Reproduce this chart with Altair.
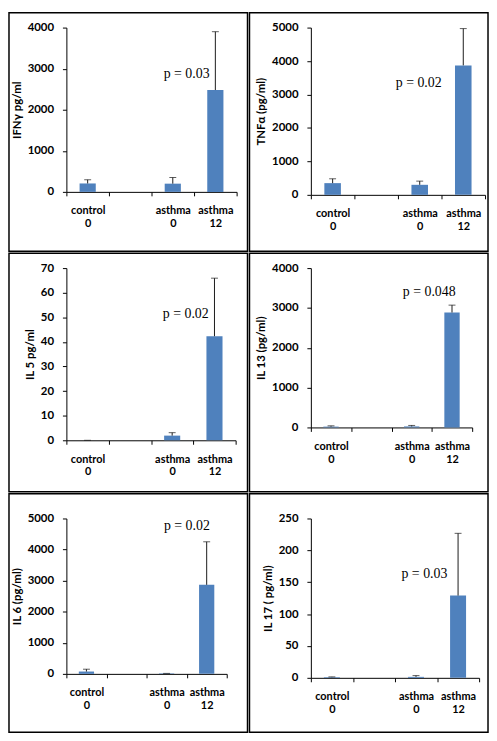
import altair as alt
import pandas as pd

# ---- data ----
categories = ["control\n0", " ", "asthma\n0", "asthma\n12"]
bar_categories = ["control\n0", "asthma\n0", "asthma\n12"]

titles = ["IFNγ pg/ml", "TNFα (pg/ml)", "IL 5 pg/ml", "IL 13 (pg/ml)", "IL 6 (pg/ml)", "IL 17 ( pg/ml)"]

ifng_mean = [205, 200, 2480]
ifng_err = [90, 150, 1420]
tnfa_mean = [350, 300, 3870]
tnfa_err = [130, 110, 1100]
il5_mean = [0, 1.9, 42.3]
il5_err = [0, 1.2, 23.6]
il13_mean = [20, 25, 2885]
il13_err = [20, 25, 185]
il6_mean = [75, 15, 2865]
il6_err = [75, 0, 1385]
il17_mean = [1, 1.5, 129]
il17_err = [0.5, 2, 97.7]

means = [ifng_mean, tnfa_mean, il5_mean, il13_mean, il6_mean, il17_mean]
errs = [ifng_err, tnfa_err, il5_err, il13_err, il6_err, il17_err]

p_labels = ["p = 0.03", "p = 0.02", "p = 0.02", "p = 0.048", "p = 0.02", "p = 0.03"]
p_label_y = [2860, 3330, 51.5, 3390, 4760, 163]

y_max = [4000, 5000, 70, 4000, 5000, 250]
y_step = [1000, 1000, 10, 1000, 1000, 50]

# ---- layout (pixels) ----
BOX = 241
COL_LEFT = [58, 62]
ROW_TOP = [15, 15, 25]
# plot width, plot height, p-label dx
layout = [
    (172, 166, -29),
    (176, 169, -45),
    (171, 174, -29),
    (163, 161, -23),
    (162, 157, -20),
    (170, 161, -34),
]

BLUE = "#4F81BD"


def make_panel(i):
    W, H, pdx = layout[i]
    left = COL_LEFT[i % 2]
    top = ROW_TOP[i // 2]
    df = pd.DataFrame({
        "cat": bar_categories,
        "mean": means[i],
        "hi": [m + e for m, e in zip(means[i], errs[i])],
    })
    xenc = alt.X(
        "cat:N",
        scale=alt.Scale(domain=categories, paddingInner=0, paddingOuter=0),
        axis=alt.Axis(
            title=None,
            labelExpr="isValid(datum.value) ? split(datum.value, '\\n') : ''",
            tickBand="extent",
            labelAngle=0,
            tickSize=4,
            labelPadding=9,
            labelLineHeight=13,
            labelBaseline="top",
            labelFontSize=11,
        ),
    )

    def yenc(field):
        return alt.Y(
            f"{field}:Q",
            scale=alt.Scale(domain=[0, y_max[i]], nice=False),
            axis=alt.Axis(
                title=titles[i],
                values=list(range(0, y_max[i] + 1, y_step[i])),
                format="d",
                grid=False,
                tickSize=4,
                labelPadding=9,
                titlePadding=5,
            ),
        )

    base = alt.Chart(df)
    bars = base.mark_bar(color=BLUE, width=alt.RelativeBandSize(0.38)).encode(
        x=xenc, y=yenc("mean")
    )
    rules = base.mark_rule(color="#1a1a1a", strokeWidth=1).encode(
        x=xenc, y=yenc("mean"), y2="hi:Q"
    )
    caps = base.mark_tick(color="#1a1a1a", size=7, thickness=1, orient="horizontal").encode(
        x=xenc, y=yenc("hi")
    )
    pdf = pd.DataFrame({"cat": [categories[3]], "v": [p_label_y[i]], "t": [p_labels[i]]})
    ptext = alt.Chart(pdf).mark_text(
        font="Liberation Serif", fontSize=14, color="black", dx=pdx,
        align="center", baseline="middle",
    ).encode(x=xenc, y=yenc("v"), text="t:N")

    border = alt.Chart(pd.DataFrame({"k": [0]})).mark_rect(
        fill="white", fillOpacity=0, stroke="black", strokeWidth=1.5
    ).encode(
        x=alt.value(-left), x2=alt.value(BOX - left),
        y=alt.value(-top), y2=alt.value(BOX - top),
    )

    return alt.layer(border, bars, rules, caps, ptext).properties(width=W, height=H)


panels = [make_panel(i) for i in range(6)]

chart = alt.concat(*panels, columns=2, spacing=0).properties(
    padding=0
).configure_view(stroke=None).configure_axis(
    labelFont="Lato", labelFontWeight="bold", labelFontSize=11.5, labelColor="black",
    titleFont="Lato", titleFontWeight="bold", titleFontSize=11.5, titleColor="black",
    domainColor="black", tickColor="black", domainWidth=1, tickWidth=1,
)

chart.save("out.html", embed_options={"renderer": "svg", "actions": False})
